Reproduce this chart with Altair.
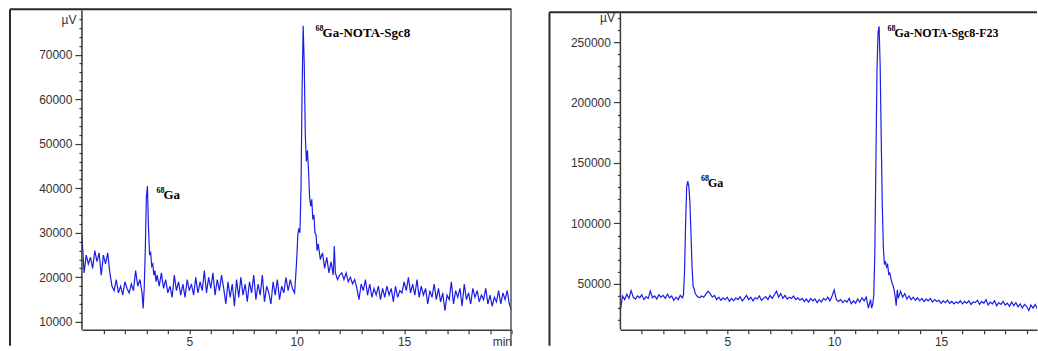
import altair as alt
import pandas as pd

# ---------------- data (values in thousands of microvolts) ----------------
# baseline readings every 0.1 min from 0.0 to 20.0; None = covered by the peak lists
left_base_kuv = [
    29.5, 21, 25, 23, 24.5, 22, 26, 23.5, 25.5, 20.5,
    25, 23, 25.5, 21, 18, 17, 19.5, 16.5, 18, 16,
    19, 17.5, 16.5, 18.5, 17, 21.5, 18, 19.5, 16.5, None,
    None, None, None, None, None, None, 18, 21, 17.5, 19.5,
    16.5, 18, 15.5, 20.5, 17, 19, 16, 18.5, 15.5, 19.5,
    17, 18.5, 16, 20, 16.5, 19, 17, 21.5, 16.5, 20,
    17.5, 21, 16, 19.5, 17, 20.5, 17.5, 14, 19, 15.5,
    18.5, 13.5, 19.5, 15.5, 20, 16, 18.5, 14.5, 19, 16.5,
    20.5, 15, 18.5, 16, 20.5, 14.5, 18, 16.5, 14, 19,
    16, 19.5, 15, 18, 16.5, 20, 17, 19.5, 17.5, 16.5,
    None, None, None, None, None, None, None, None, None, None,
    None, 24, 25.5, 22, 24.5, 21, 23.5, 20.5, 21, 19.5,
    20.5, 21, 19.5, 21, 19, 20, 18.5, 19.5, 17.5, 15,
    18.5, 17, 19.5, 16, 18.5, 15.5, 17.5, 16, 18, 15,
    17.5, 15.5, 18, 16, 17.5, 14.5, 18, 15.5, 17, 16.5,
    19, 17, 20, 16.5, 18.5, 16, 19.5, 15.5, 18, 16,
    17.5, 14, 17, 15.5, 18.5, 15, 17.5, 14.5, 16.5, 12.5,
    16, 15, 19, 14, 17, 15.5, 17.5, 13.5, 18.5, 15,
    16.5, 14, 17.5, 15.5, 17, 14.5, 16, 15, 17.5, 14,
    16, 13.5, 15.5, 14.5, 17, 14, 16.5, 15, 17, 14,
    12.5,
]
left_peak_time = [2.85, 2.9, 2.95, 3.0, 3.05, 3.1, 3.15, 3.2, 3.25, 3.3, 3.35, 3.4, 3.45, 3.5,
                  9.95, 10.0, 10.05, 10.1, 10.15, 10.2, 10.25, 10.3, 10.35, 10.4, 10.45, 10.5,
                  10.55, 10.6, 10.65, 10.7, 10.75, 10.8, 10.85, 10.9, 10.95, 11.0, 11.75]
left_peak_kuv = [13, 17.5, 26, 38, 40.5, 31, 25, 25.5, 22.5, 23, 20.5, 21.5, 19, 20.5,
                 20, 24, 29.5, 31, 30, 40, 62, 76.5, 68, 52, 46, 48.5,
                 44, 38, 36, 37.5, 33, 34, 30, 29.5, 26, 27.5, 27]

right_base_kuv = [
    28, 40, 37, 41.5, 38, 44.5, 39, 37.5, 40, 38.5,
    41, 37, 39.5, 38, 44, 38.5, 40, 37.5, 41, 39,
    40.5, 38, 41.5, 38.5, 40, 36.5, 39, 37, 40.5, 38.5,
    None, None, None, None, None, None, 39.5, 38.5, 40, 39,
    41.5, 44, 42, 39, 40.5, 37, 39, 36.5, 38.5, 37,
    39, 35.5, 38, 36, 38.5, 37, 39.5, 36, 38, 40.5,
    37, 39, 36, 38.5, 37.5, 40, 36.5, 38, 39.5, 37,
    40.5, 38, 41, 44, 39, 42, 38, 40.5, 37.5, 39,
    38, 40, 37, 38.5, 36.5, 38, 35.5, 37.5, 35, 38,
    36, 37.5, 34.5, 37, 35, 38, 36.5, 39, 36, 40,
    45, 37, 35.5, 37, 34.5, 36.5, 35, 38, 33.5, 36,
    34, 37.5, 35, 38.5, 36, 39, 30, 37, None, None,
    None, None, None, None, None, None, None, None, None, None,
    None, 44, 39, 42, 37.5, 40, 37, 39, 36.5, 38.5,
    36, 38, 35.5, 37.5, 36, 38, 35, 37, 35.5, 36.5,
    34, 36, 34.5, 36.5, 34, 35.5, 33.5, 35, 34, 36,
    33.5, 35.5, 34, 36, 33, 35, 34.5, 36.5, 33, 35.5,
    34, 37, 32.5, 35, 33.5, 36, 32, 34.5, 33, 35.5,
    32.5, 34, 31.5, 35, 32, 34.5, 31, 33.5, 30, 33,
    31.5, 28, 32.5, 30, 33, 29.5, 32, 30.5, 33, 31,
    32,
]
right_peak_time = [2.95, 3.0, 3.05, 3.1, 3.15, 3.2, 3.25, 3.3, 3.35, 3.4, 3.45, 3.5,
                   11.75, 11.8, 11.85, 11.9, 11.95, 12.0, 12.05, 12.1, 12.15, 12.2, 12.25,
                   12.3, 12.35, 12.4, 12.45, 12.5, 12.55, 12.6, 12.65, 12.7, 12.75, 12.8,
                   12.85, 12.9, 12.95, 13.0]
right_peak_kuv = [41, 60, 100, 130, 135, 131, 118, 92, 65, 48, 46, 42,
                  30, 33, 40, 75, 150, 225, 258, 263, 230, 170, 115,
                  80, 66, 68, 64, 66, 58, 59, 55, 51, 49, 45,
                  40, 32, 45, 38]

# annotations: (time, microvolts) of the start of each label
left_labels = ["Ga", "Ga-NOTA-Sgc8"]
left_label_time = [3.47, 10.88]
left_label_uv = [38500, 74800]
right_labels = ["Ga", "Ga-NOTA-Sgc8-F23"]
right_label_time = [3.77, 12.49]
right_label_uv = [133700, 257200]

left_y_ticks = list(range(10000, 80000, 2000))
right_y_ticks = list(range(20000, 280000, 10000))
left_x_ticks = list(range(1, 20)) + [20]
right_x_end = 19.486
right_x_ticks = list(range(1, 20))


def series(base, peak_t, peak_v):
    rows = [(round(i * 0.1, 1), v) for i, v in enumerate(base) if v is not None]
    rows += list(zip(peak_t, peak_v))
    df = pd.DataFrame(rows, columns=["time", "kuv"]).sort_values("time")
    df["uv"] = df["kuv"] * 1000
    return df


left_df = series(left_base_kuv, left_peak_time, left_peak_kuv)
right_df = series(right_base_kuv, right_peak_time, right_peak_kuv)

LINE = "#1c1ce8"
AX = "#3a3a3a"
one = pd.DataFrame({"k": [0]})


def panel(df, labels, lt, lv, xdom, ydom, w, h, yticks, ylab_expr, ymajor_test,
          xticks, xlab_expr, frame_left, frame_top, axis_top, fs, right_frame):
    x_axis = alt.Axis(values=xticks, tickCount=500, labelExpr=xlab_expr, tickSize=4,
                      labelFlush=True, labelOverlap=False, domainColor=AX, domainWidth=1.5,
                      tickColor=AX, tickWidth=1.2, labelColor="#333", labelFont="Liberation Sans",
                      labelFontSize=12, labelPadding=3, grid=False, title=None)
    y_axis = alt.Axis(values=yticks, tickCount=500, labelExpr=ylab_expr,
                      tickSize={"condition": {"test": ymajor_test, "value": 7}, "value": 3},
                      labelOverlap=False, domain=False, tickColor=AX, tickWidth=1.2,
                      labelColor="#333", labelFont="Liberation Sans", labelFontSize=12,
                      labelPadding=3, grid=False, title=None)
    base = alt.Chart(df)
    line = base.mark_line(color=LINE, strokeWidth=1.2, clip=True).encode(
        x=alt.X("time:Q", scale=alt.Scale(domain=xdom, nice=False, zero=False), axis=x_axis),
        y=alt.Y("uv:Q", scale=alt.Scale(domain=ydom, nice=False, zero=False), axis=y_axis),
    )
    ann = pd.DataFrame({"label": labels, "time": lt, "uv": lv})
    sup = alt.Chart(ann).mark_text(font="Liberation Serif", fontWeight="bold", fontSize=8,
                                   align="left", baseline="middle", dy=-4, color="#000000").encode(
        x="time:Q", y="uv:Q", text=alt.value("68"))
    txt = alt.Chart(ann).mark_text(font="Liberation Serif", fontWeight="bold", fontSize=fs,
                                   align="left", baseline="middle", dx=7, color="#000000").encode(
        x="time:Q", y="uv:Q", text="label:N")
    yline = alt.Chart(one).mark_rule(color=AX, strokeWidth=1.5).encode(
        x=alt.value(0), y=alt.value(axis_top), y2=alt.value(h))
    fl = alt.Chart(one).mark_rule(color="#2a2a2a", strokeWidth=2).encode(
        x=alt.value(frame_left), y=alt.value(frame_top), y2=alt.value(336))
    ft = alt.Chart(one).mark_rule(color="#2a2a2a", strokeWidth=2).encode(
        x=alt.value(frame_left), x2=alt.value(w), y=alt.value(frame_top))
    layers = [line, sup, txt, yline, fl, ft]
    if right_frame:
        fr = alt.Chart(one).mark_rule(color="#555555", strokeWidth=1.5).encode(
            x=alt.value(w - 0.5), y=alt.value(frame_top), y2=alt.value(336))
        layers.append(fr)
    return alt.layer(*layers).properties(width=w, height=h)


left = panel(left_df, left_labels, left_label_time, left_label_uv, [0, 20], [8200, 80000],
             430, 320, left_y_ticks,
             "datum.value == 78000 ? 'µV' : (datum.value % 10000 === 0 ? format(datum.value, 'd') : '')",
             "datum.value % 10000 === 0 && datum.value < 75000",
             left_x_ticks,
             "datum.value == 20 ? 'min' : (datum.value % 5 === 0 ? format(datum.value, 'd') : '')",
             -72, -1, 0, 13, True)

right = panel(right_df, right_labels, right_label_time, right_label_uv, [0, right_x_end],
              [12000, 276400], 417, 320, right_y_ticks,
              "datum.value == 270000 ? 'µV' : (datum.value % 50000 === 0 ? format(datum.value, 'd') : '')",
              "datum.value % 50000 === 0 && datum.value < 260000",
              right_x_ticks,
              "datum.value % 5 === 0 ? format(datum.value, 'd') : ''",
              -71, 2, 3, 12, False)

chart = alt.hconcat(left, right, spacing=109, bounds="flush").properties(
    padding={"left": 9, "top": 8, "right": 0, "bottom": 0},
    background="white",
).configure_view(stroke=None)

chart.save("out.html", embed_options={"renderer": "svg", "actions": False})
